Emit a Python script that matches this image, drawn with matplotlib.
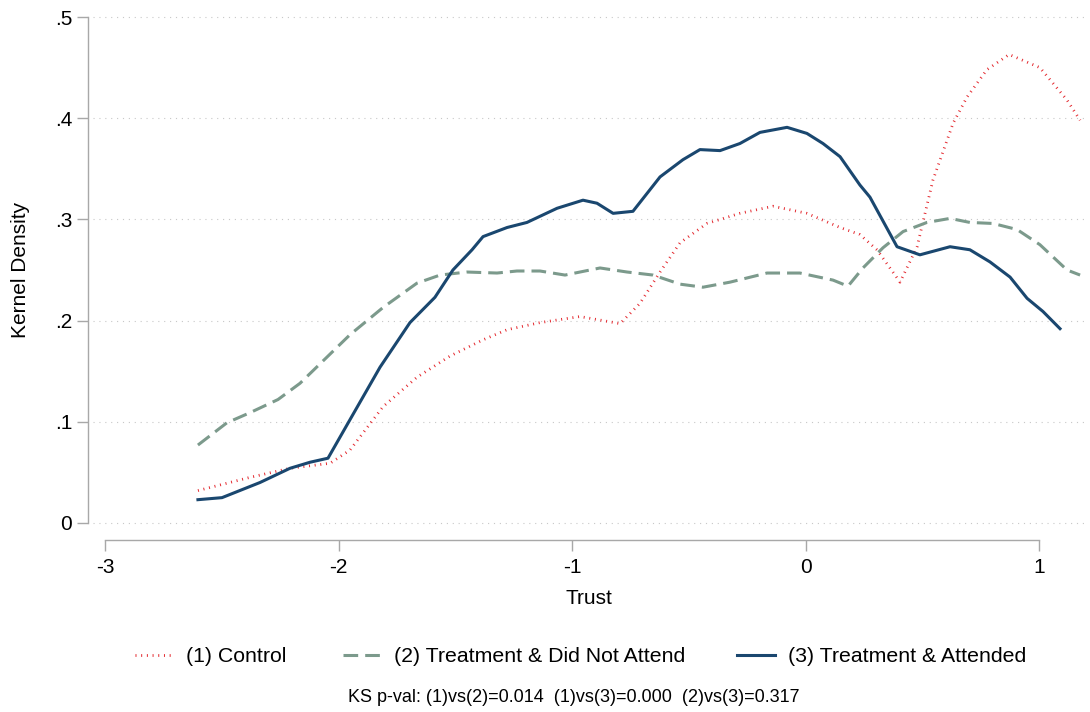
import matplotlib.pyplot as plt

plt.rcParams['font.family'] = ['Liberation Sans', 'DejaVu Sans']

# values
trust_control = [-2.602, -2.38, -2.208, -2.036, -1.951, -1.809, -1.664, -1.522,
                 -1.381, -1.278, -1.137, -0.966, -0.794, -0.709, -0.623, -0.537,
                 -0.422, -0.281, -0.139, 0.006, 0.148, 0.233, 0.306, 0.405,
                 0.478, 0.546, 0.632, 0.692, 0.777, 0.872, 1.004, 1.120, 1.176]
dens_control = [0.032, 0.045, 0.054, 0.059, 0.072, 0.115, 0.144, 0.165,
                0.181, 0.191, 0.198, 0.204, 0.197, 0.217, 0.248, 0.277,
                0.296, 0.306, 0.313, 0.306, 0.292, 0.285, 0.270, 0.238,
                0.273, 0.339, 0.395, 0.421, 0.448, 0.463, 0.450, 0.418, 0.398]

trust_notattend = [-2.602, -2.478, -2.379, -2.259, -2.165, -2.049, -1.951, -1.809,
                   -1.664, -1.565, -1.450, -1.321, -1.236, -1.137, -1.030, -0.880,
                   -0.764, -0.653, -0.537, -0.439, -0.323, -0.165, -0.024, 0.118,
                   0.182, 0.246, 0.332, 0.418, 0.520, 0.619, 0.704, 0.803,
                   0.906, 1.004, 1.120, 1.176]
dens_notattend = [0.077, 0.099, 0.109, 0.122, 0.138, 0.164, 0.186, 0.213,
                  0.237, 0.245, 0.248, 0.247, 0.249, 0.249, 0.245, 0.252,
                  0.248, 0.245, 0.236, 0.233, 0.238, 0.247, 0.247, 0.240,
                  0.234, 0.252, 0.272, 0.288, 0.297, 0.301, 0.297, 0.296,
                  0.290, 0.275, 0.250, 0.245]

trust_attend = [-2.602, -2.499, -2.336, -2.208, -2.122, -2.045, -1.951, -1.822,
                -1.694, -1.587, -1.510, -1.428, -1.381, -1.278, -1.193, -1.064,
                -0.953, -0.893, -0.824, -0.739, -0.623, -0.525, -0.452, -0.366,
                -0.281, -0.195, -0.079, 0.006, 0.075, 0.148, 0.233, 0.276,
                0.392, 0.490, 0.619, 0.704, 0.790, 0.876, 0.949, 1.017, 1.090]
dens_attend = [0.023, 0.025, 0.040, 0.054, 0.060, 0.064, 0.102, 0.154,
               0.198, 0.223, 0.250, 0.270, 0.283, 0.292, 0.297, 0.311,
               0.319, 0.316, 0.306, 0.308, 0.342, 0.359, 0.369, 0.368,
               0.375, 0.386, 0.391, 0.385, 0.375, 0.362, 0.334, 0.322,
               0.273, 0.265, 0.273, 0.270, 0.258, 0.243, 0.222, 0.209, 0.192]

labels = ["(1) Control", "(2) Treatment & Did Not Attend", "(3) Treatment & Attended"]
x_ticks = [-3, -2, -1, 0, 1]
x_ticklabels = ["-3", "-2", "-1", "0", "1"]
y_ticks = [0, 0.1, 0.2, 0.3, 0.4, 0.5]
y_ticklabels = ["0", ".1", ".2", ".3", ".4", ".5"]
note = "KS p-val: (1)vs(2)=0.014  (1)vs(3)=0.000  (2)vs(3)=0.317"

W, H = 1090, 712
fig = plt.figure(figsize=(W / 100, H / 100), dpi=100)
ax = fig.add_axes([93 / W, 1 - 527 / H, 992 / W, 514 / H])

axis_gray = "#a8a8a8"

l1, = ax.plot(trust_control, dens_control, color="#e3262c", lw=2.0,
              linestyle=(0, (0.35, 1.7)))
l2, = ax.plot(trust_notattend, dens_notattend, color="#7c9a8c", lw=2.2,
              linestyle=(0, (4.8, 2.3)))
l3, = ax.plot(trust_attend, dens_attend, color="#1a476f", lw=2.2)

ax.set_xlim(-3.0514, 1.197)
ax.set_ylim(-0.004, 0.504)

ax.set_xticks(x_ticks)
ax.set_xticklabels(x_ticklabels)
ax.set_yticks(y_ticks)
ax.set_yticklabels(y_ticklabels)

ax.grid(axis="y", color="#c8c8c8", lw=0.8, linestyle=(0, (1, 4.3)))
ax.set_axisbelow(True)

for side in ["top", "right"]:
    ax.spines[side].set_visible(False)
ax.spines["left"].set_position(("outward", 3.6))
ax.spines["bottom"].set_position(("outward", 9.4))
ax.spines["left"].set_bounds(0, 0.5)
ax.spines["bottom"].set_bounds(-3, 1)
for side in ["left", "bottom"]:
    ax.spines[side].set_color(axis_gray)
    ax.spines[side].set_linewidth(1.0)

ax.tick_params(axis="both", length=8, width=1.0, color=axis_gray,
               labelsize=15, pad=3.5)
ax.tick_params(axis="x", pad=5)

ax.set_ylabel("Kernel Density", fontsize=15)
ax.yaxis.label.set_va("center")
ax.yaxis.set_label_coords((20.5 - 93) / 992, 0.5)
ax.set_xlabel("Trust", fontsize=15)
ax.xaxis.label.set_va("center")
ax.xaxis.set_label_coords(0.5, (527 - 598) / 514)

# legend entries, one per key so the spacing can follow the original
for line, lab, x0 in zip([l1, l2, l3], labels, [135, 343, 737]):
    fig.legend([line], [lab], loc="center left",
               bbox_to_anchor=(x0 / W, 1 - 657 / H), frameon=False,
               fontsize=15.3, borderpad=0, borderaxespad=0,
               handlelength=1.8, handletextpad=0.6)

fig.text(574 / W, 1 - 698 / H, note, ha="center", va="center", fontsize=13)

fig.savefig("out.png", dpi=100)
plt.close()
